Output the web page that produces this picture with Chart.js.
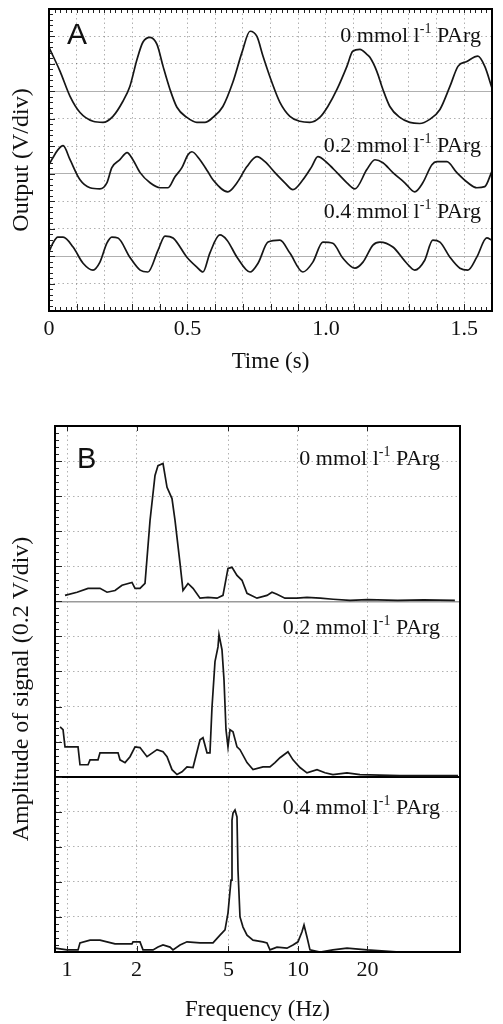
<!DOCTYPE html>
<html>
<head>
<meta charset="utf-8">
<script src="https://cdn.jsdelivr.net/npm/chart.js@4/dist/chart.umd.min.js"></script>
<style>
html,body{margin:0;padding:0;background:#fff;}
#wa{position:absolute;left:0;top:0;width:503px;height:385px;}
#wb{position:absolute;left:0;top:385px;width:503px;height:639px;}
</style>
</head>
<body>
<div id="wa"><canvas id="ca"></canvas></div>
<div id="wb"><canvas id="cb"></canvas></div>
<script>
// ---------------- DATA: panel A (time traces, output in divisions relative to each trace's centre line)
const timeA0 = [0, 0.040, 0.076, 0.112, 0.159, 0.195, 0.231, 0.267, 0.292, 0.318, 0.339, 0.365, 0.390, 0.412, 0.437, 0.462, 0.498, 0.534, 0.563, 0.592, 0.628, 0.664, 0.697, 0.726, 0.751, 0.773, 0.805, 0.834, 0.870, 0.906, 0.942, 0.978, 1.007, 1.040, 1.076, 1.097, 1.123, 1.148, 1.159, 1.184, 1.206, 1.231, 1.267, 1.303, 1.339, 1.375, 1.412, 1.448, 1.477, 1.509, 1.549, 1.574, 1.599];
const outA0 = [1.60, 0.73, -0.18, -0.77, -1.09, -1.13, -0.91, -0.36, 0.18, 1.17, 1.79, 1.97, 1.71, 0.91, 0.07, -0.58, -0.95, -1.13, -1.13, -0.95, -0.55, 0.33, 1.42, 2.19, 2.00, 1.28, 0.33, -0.40, -0.91, -1.09, -1.13, -0.95, -0.55, 0.07, 0.91, 1.46, 1.53, 1.35, 1.24, 0.73, 0.07, -0.55, -0.95, -1.13, -1.17, -1.02, -0.66, 0.18, 0.91, 1.09, 1.28, 0.91, 0.15];

const timeA2 = [0, 0.014, 0.032, 0.051, 0.076, 0.112, 0.148, 0.184, 0.209, 0.227, 0.256, 0.282, 0.303, 0.329, 0.365, 0.401, 0.430, 0.455, 0.480, 0.502, 0.516, 0.545, 0.574, 0.592, 0.646, 0.679, 0.715, 0.751, 0.780, 0.816, 0.852, 0.881, 0.917, 0.949, 0.971, 1.004, 1.040, 1.076, 1.105, 1.148, 1.177, 1.206, 1.242, 1.285, 1.321, 1.350, 1.383, 1.401, 1.437, 1.473, 1.513, 1.545, 1.574, 1.599];
const outA2 = [0.33, 0.58, 0.87, 1.02, 0.51, -0.22, -0.51, -0.55, -0.33, 0.22, 0.51, 0.77, 0.51, 0.04, -0.33, -0.51, -0.51, -0.11, 0.22, 0.69, 0.80, 0.51, 0.07, -0.22, -0.66, -0.33, 0.26, 0.62, 0.44, 0.04, -0.33, -0.58, -0.22, 0.26, 0.62, 0.40, 0.04, -0.33, -0.55, 0.15, 0.51, 0.40, 0.04, -0.33, -0.66, -0.33, 0.33, 0.44, 0.44, 0.04, -0.33, -0.51, -0.47, 0.07];

const timeA4 = [0, 0.014, 0.032, 0.051, 0.087, 0.123, 0.159, 0.184, 0.209, 0.227, 0.249, 0.292, 0.329, 0.357, 0.394, 0.419, 0.448, 0.498, 0.534, 0.556, 0.581, 0.617, 0.643, 0.679, 0.726, 0.755, 0.791, 0.834, 0.870, 0.917, 0.953, 0.989, 1.025, 1.061, 1.105, 1.134, 1.170, 1.195, 1.242, 1.292, 1.321, 1.357, 1.386, 1.412, 1.448, 1.484, 1.513, 1.545, 1.581, 1.599];
const outA4 = [0.15, 0.47, 0.69, 0.69, 0.33, -0.26, -0.51, -0.22, 0.47, 0.69, 0.66, -0.04, -0.51, -0.58, 0.22, 0.73, 0.66, -0.04, -0.40, -0.58, 0.11, 0.77, 0.58, -0.04, -0.58, -0.26, 0.51, 0.58, 0.11, -0.58, -0.22, 0.51, 0.47, -0.07, -0.44, -0.22, 0.40, 0.51, 0.33, -0.26, -0.51, -0.15, 0.58, 0.51, -0.04, -0.44, -0.51, -0.04, 0.66, 0.58];

const tickValuesA = [0, 0.5, 1.0, 1.5];
const tickLabelsA = ['0', '0.5', '1.0', '1.5'];

// ---------------- DATA: panel B (amplitude spectra, divisions of 0.2 V)
const freqB0 = [0.98, 1.105, 1.233, 1.389, 1.49, 1.614, 1.73, 1.911, 1.97, 2.07, 2.176, 2.288, 2.404, 2.477, 2.604, 2.71, 2.848, 2.935, 3.085, 3.178, 3.341, 3.512, 3.766, 4.077, 4.461, 4.734, 4.977, 5.18, 5.444, 5.723, 6.016, 6.645, 7.342, 7.716, 8.11, 8.78, 9.9, 10.94, 12.5, 14.2, 16.8, 20, 27, 35, 47.8];
const ampB0 = [0.17, 0.26, 0.37, 0.37, 0.26, 0.31, 0.46, 0.54, 0.37, 0.37, 0.51, 2.31, 3.59, 3.87, 3.93, 3.25, 2.93, 2.31, 1.08, 0.31, 0.51, 0.37, 0.09, 0.11, 0.09, 0.17, 0.94, 0.97, 0.74, 0.60, 0.23, 0.09, 0.17, 0.26, 0.20, 0.09, 0.09, 0.11, 0.09, 0.06, 0.03, 0.05, 0.03, 0.04, 0.03];

const freqB2 = [0.933, 0.961, 0.98, 1.116, 1.138, 1.233, 1.258, 1.362, 1.389, 1.663, 1.696, 1.783, 1.874, 1.97, 2.07, 2.22, 2.453, 2.604, 2.71, 2.848, 2.994, 3.147, 3.307, 3.512, 3.766, 3.879, 4.037, 4.159, 4.243, 4.372, 4.505, 4.55, 4.688, 4.783, 4.879, 4.977, 5.078, 5.232, 5.444, 5.61, 6.016, 6.387, 7.056, 7.563, 7.951, 8.358, 9.05, 9.515, 10.2, 10.94, 12.09, 13.09, 14.17, 16.3, 18.55, 27.6, 49.3];
const ampB2 = [1.42, 1.34, 0.85, 0.85, 0.34, 0.34, 0.48, 0.48, 0.68, 0.68, 0.48, 0.40, 0.57, 0.85, 0.83, 0.57, 0.77, 0.71, 0.57, 0.20, 0.06, 0.14, 0.28, 0.26, 1.05, 1.11, 0.68, 0.68, 1.97, 3.28, 3.70, 4.05, 3.62, 2.76, 1.34, 0.85, 1.34, 1.28, 0.85, 0.77, 0.40, 0.20, 0.28, 0.28, 0.40, 0.54, 0.71, 0.48, 0.26, 0.11, 0.20, 0.11, 0.06, 0.11, 0.06, 0.03, 0.03];

const freqB4 = [0.887, 1.0, 1.116, 1.138, 1.258, 1.389, 1.614, 1.911, 1.931, 2.07, 2.133, 2.357, 2.477, 2.604, 2.792, 2.876, 3.085, 3.307, 3.766, 4.286, 4.596, 4.831, 4.977, 5.129, 5.18, 5.232, 5.337, 5.444, 5.499, 5.61, 5.781, 6.016, 6.387, 7.056, 7.342, 7.563, 8.11, 8.96, 9.515, 10.0, 10.4, 10.62, 10.94, 11.27, 12.47, 14.17, 16.3, 19.9, 27.6, 49.3];
const ampB4 = [0.11, 0.06, 0.06, 0.26, 0.34, 0.34, 0.23, 0.23, 0.29, 0.29, 0.06, 0.06, 0.14, 0.20, 0.14, 0.06, 0.20, 0.29, 0.26, 0.26, 0.48, 0.63, 1.11, 2.05, 3.76, 3.96, 4.05, 3.85, 2.34, 1.00, 0.71, 0.48, 0.34, 0.29, 0.26, 0.06, 0.14, 0.11, 0.20, 0.29, 0.57, 0.77, 0.43, 0.06, 0.0, 0.06, 0.11, 0.06, 0.0, 0.0];

const tickValuesB = [1, 2, 5, 10, 20];
const tickLabelsB = ['1', '2', '5', '10', '20'];

const concentrations = ['0', '0.2', '0.4'];

// ---------------- layout / style (not data)
const SERIF = "'Liberation Serif','Times New Roman',serif";
const SANS = "'Liberation Sans',Arial,sans-serif";
const INK = '#161616';
const DOT = 'rgba(70,70,70,0.42)';
const DASH = [1.5, 3];
const centersA = [8, 5, 2];      // centre line (in divisions) of each trace in A
const basesB = [10, 5, 0];       // baseline of each sub-panel in B
const labelPosA = { x: 1.56, ys: [10.02, 6.01, 3.6], letterX: 0.065, letterY: 10.02 };
const labelPosB = { x: 41.2, ys: [14.06, 9.24, 4.11], letterX: 1.105, letterY: 14.03 };

function labelFor(v, vals, labs) {
  for (let i = 0; i < vals.length; i++) if (Math.abs(v - vals[i]) < 1e-6) return labs[i];
  return '';
}

function trace(xs, ys, off, smooth) {
  return {
    data: xs.map((x, i) => ({ x: x, y: ys[i] + off })),
    borderColor: INK, borderWidth: 1.7, pointRadius: 0, fill: false,
    cubicInterpolationMode: smooth ? 'monotone' : 'default', tension: 0
  };
}

function concLabel(ctx, xR, yM, conc) {
  const f1 = '22px ' + SERIF, f2 = '14px ' + SERIF;
  const p1 = conc + ' mmol l', p2 = '-1', p3 = ' PArg';
  ctx.font = f1; const w1 = ctx.measureText(p1).width; const w3 = ctx.measureText(p3).width;
  ctx.font = f2; const w2 = ctx.measureText(p2).width;
  const x0 = xR - (w1 + w2 + w3);
  ctx.textAlign = 'left'; ctx.textBaseline = 'middle'; ctx.fillStyle = '#111';
  ctx.font = f1; ctx.fillText(p1, x0, yM);
  ctx.font = f2; ctx.fillText(p2, x0 + w1, yM - 7);
  ctx.font = f1; ctx.fillText(p3, x0 + w1 + w2, yM);
}

const common = {
  responsive: true, maintainAspectRatio: false, animation: false, devicePixelRatio: 1,
  plugins: { legend: { display: false }, tooltip: { enabled: false } }
};

// ---------------- Panel A
const plugA = {
  id: 'panelA',
  afterDraw(chart) {
    const { ctx, chartArea: a, scales: { x, y } } = chart;
    ctx.save();
    ctx.strokeStyle = '#222'; ctx.lineWidth = 1;
    ctx.beginPath();
    for (let k = 0; k <= 55; k++) {
      const py = Math.round(y.getPixelForValue(k / 5)) + 0.5;
      const len = (k % 5 === 0) ? 6 : 4;
      ctx.moveTo(a.left, py); ctx.lineTo(a.left + len, py);
    }
    for (let k = 0; k <= 80; k++) {
      const px = Math.round(x.getPixelForValue(k / 50)) + 0.5;
      const len = (k % 5 === 0) ? 7 : 4;
      ctx.moveTo(px, a.top); ctx.lineTo(px, a.top + 4);
      ctx.moveTo(px, a.bottom); ctx.lineTo(px, a.bottom - len);
    }
    ctx.stroke();
    ctx.lineWidth = 2; ctx.strokeStyle = '#000';
    ctx.strokeRect(a.left, a.top, a.right - a.left, a.bottom - a.top);
    concentrations.forEach((c, i) => concLabel(ctx, x.getPixelForValue(labelPosA.x), y.getPixelForValue(labelPosA.ys[i]), c));
    ctx.font = '30px ' + SANS; ctx.fillStyle = '#111'; ctx.textAlign = 'left'; ctx.textBaseline = 'middle';
    ctx.fillText('A', x.getPixelForValue(labelPosA.letterX), y.getPixelForValue(labelPosA.letterY));
    ctx.restore();
  }
};

new Chart(document.getElementById('ca'), {
  type: 'line',
  data: { datasets: [
    trace(timeA0, outA0, centersA[0], true),
    trace(timeA2, outA2, centersA[1], true),
    trace(timeA4, outA4, centersA[2], true)
  ] },
  options: Object.assign({}, common, {
    layout: { padding: { top: 9, right: 11, left: 0, bottom: 0 } },
    scales: {
      x: {
        type: 'linear', min: 0, max: 1.6,
        ticks: { stepSize: 0.1, autoSkip: false, maxRotation: 0, padding: 5, color: '#111',
                 font: { family: SERIF, size: 22 },
                 callback: v => labelFor(v, tickValuesA, tickLabelsA) },
        grid: { color: DOT, lineWidth: 1, drawTicks: false },
        border: { display: false, dash: DASH },
        title: { display: true, text: 'Time (s)', color: '#111', font: { family: SERIF, size: 23 }, padding: { top: 0, bottom: 9 } },
        afterFit: s => { s.height = 74; }
      },
      y: {
        type: 'linear', min: 0, max: 11,
        ticks: { display: false, stepSize: 1 },
        grid: { drawTicks: false, lineWidth: 1,
                color: c => (c.tick && centersA.includes(c.tick.value)) ? '#b0b0b0' : DOT },
        border: { display: false,
                  dash: c => (c.tick && centersA.includes(c.tick.value)) ? [] : DASH },
        title: { display: true, text: 'Output (V/div)', color: '#111', font: { family: SERIF, size: 24 }, padding: { top: 7, bottom: 0 } },
        afterFit: s => { s.width = 49; }
      }
    }
  }),
  plugins: [plugA]
});

// ---------------- Panel B
const plugB = {
  id: 'panelB',
  afterDraw(chart) {
    const { ctx, chartArea: a, scales: { x, y } } = chart;
    ctx.save();
    ctx.strokeStyle = '#222'; ctx.lineWidth = 1;
    ctx.beginPath();
    for (let k = 0; k <= 75; k++) {
      const py = Math.round(y.getPixelForValue(k / 5)) + 0.5;
      const len = (k % 5 === 0) ? 7 : 4;
      ctx.moveTo(a.left, py); ctx.lineTo(a.left + len, py);
    }
    tickValuesB.forEach(v => {
      const px = Math.round(x.getPixelForValue(v)) + 0.5;
      ctx.moveTo(px, a.bottom); ctx.lineTo(px, a.bottom - 6);
      ctx.moveTo(px, a.top); ctx.lineTo(px, a.top + 5);
    });
    ctx.stroke();
    ctx.lineWidth = 2; ctx.strokeStyle = '#000';
    ctx.strokeRect(a.left, a.top, a.right - a.left, a.bottom - a.top);
    concentrations.forEach((c, i) => concLabel(ctx, x.getPixelForValue(labelPosB.x), y.getPixelForValue(labelPosB.ys[i]), c));
    ctx.font = '29px ' + SANS; ctx.fillStyle = '#111'; ctx.textAlign = 'left'; ctx.textBaseline = 'middle';
    ctx.fillText('B', x.getPixelForValue(labelPosB.letterX), y.getPixelForValue(labelPosB.letterY));
    ctx.restore();
  }
};

new Chart(document.getElementById('cb'), {
  type: 'line',
  data: { datasets: [
    trace(freqB0, ampB0, basesB[0], false),
    trace(freqB2, ampB2, basesB[1], false),
    trace(freqB4, ampB4, basesB[2], false)
  ] },
  options: Object.assign({}, common, {
    layout: { padding: { top: 41, right: 43, left: 0, bottom: 0 } },
    scales: {
      x: {
        type: 'logarithmic', min: 0.887, max: 50.3,
        afterBuildTicks: s => { s.ticks = tickValuesB.map(v => ({ value: v })); },
        ticks: { autoSkip: false, maxRotation: 0, padding: 5, color: '#111',
                 font: { family: SERIF, size: 22 },
                 callback: v => labelFor(v, tickValuesB, tickLabelsB) },
        grid: { color: DOT, lineWidth: 1, drawTicks: false },
        border: { display: false, dash: DASH },
        title: { display: true, text: 'Frequency (Hz)', color: '#111', font: { family: SERIF, size: 23 }, padding: { top: 0, bottom: 0 } },
        afterFit: s => { s.height = 72; }
      },
      y: {
        type: 'linear', min: 0, max: 15,
        ticks: { display: false, stepSize: 1 },
        grid: { drawTicks: false,
                color: c => !c.tick ? DOT : (c.tick.value === basesB[1] ? '#000' : (c.tick.value === basesB[0] ? '#9a9a9a' : DOT)),
                lineWidth: c => !c.tick ? 1 : (c.tick.value === basesB[1] ? 2 : (c.tick.value === basesB[0] ? 1.5 : 1)) },
        border: { display: false,
                  dash: c => (c.tick && (c.tick.value === basesB[0] || c.tick.value === basesB[1])) ? [] : DASH },
        title: { display: true, text: 'Amplitude of signal (0.2 V/div)', color: '#111', font: { family: SERIF, size: 24 }, padding: { top: 7, bottom: 0 } },
        afterFit: s => { s.width = 55; }
      }
    }
  }),
  plugins: [plugB]
});
</script>
</body>
</html>
